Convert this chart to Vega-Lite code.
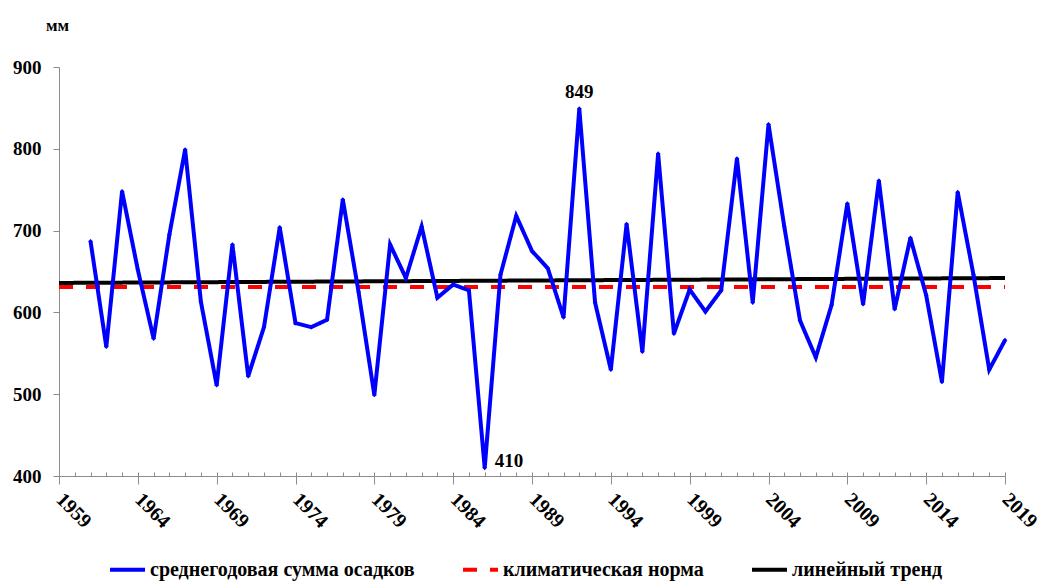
{
  "$schema": "https://vega.github.io/schema/vega-lite/v6.json",
  "width": 946,
  "height": 409,
  "autosize": {"type": "none"},
  "padding": {"left": 59, "top": 67, "right": 32, "bottom": 105},
  "background": "white",
  "config": {
    "view": {"stroke": null},
    "font": "Liberation Serif",
    "legend": {
      "orient": "none",
      "legendX": 49,
      "legendY": 483,
      "direction": "horizontal",
      "title": null,
      "symbolType": "stroke",
      "symbolSize": 1225,
      "symbolStrokeWidth": 4,
      "labelFont": "Liberation Serif",
      "labelFontWeight": "bold",
      "labelFontSize": 20,
      "labelColor": "#000000",
      "labelLimit": 500,
      "labelOffset": 3,
      "columnPadding": 40
    }
  },
  "datasets": {
    "precip": [
      {"year": 1961, "value": 687, "series": "среднегодовая сумма осадков"},
      {"year": 1962, "value": 558, "series": "среднегодовая сумма осадков"},
      {"year": 1963, "value": 748, "series": "среднегодовая сумма осадков"},
      {"year": 1964, "value": 652, "series": "среднегодовая сумма осадков"},
      {"year": 1965, "value": 568, "series": "среднегодовая сумма осадков"},
      {"year": 1966, "value": 695, "series": "среднегодовая сумма осадков"},
      {"year": 1967, "value": 799, "series": "среднегодовая сумма осадков"},
      {"year": 1968, "value": 613, "series": "среднегодовая сумма осадков"},
      {"year": 1969, "value": 511, "series": "среднегодовая сумма осадков"},
      {"year": 1970, "value": 683, "series": "среднегодовая сумма осадков"},
      {"year": 1971, "value": 522, "series": "среднегодовая сумма осадков"},
      {"year": 1972, "value": 582, "series": "среднегодовая сумма осадков"},
      {"year": 1973, "value": 704, "series": "среднегодовая сумма осадков"},
      {"year": 1974, "value": 587, "series": "среднегодовая сумма осадков"},
      {"year": 1975, "value": 582, "series": "среднегодовая сумма осадков"},
      {"year": 1976, "value": 591, "series": "среднегодовая сумма осадков"},
      {"year": 1977, "value": 738, "series": "среднегодовая сумма осадков"},
      {"year": 1978, "value": 625, "series": "среднегодовая сумма осадков"},
      {"year": 1979, "value": 499, "series": "среднегодовая сумма осадков"},
      {"year": 1980, "value": 683, "series": "среднегодовая сумма осадков"},
      {"year": 1981, "value": 642, "series": "среднегодовая сумма осадков"},
      {"year": 1982, "value": 705, "series": "среднегодовая сумма осадков"},
      {"year": 1983, "value": 618, "series": "среднегодовая сумма осадков"},
      {"year": 1984, "value": 634, "series": "среднегодовая сумма осадков"},
      {"year": 1985, "value": 627, "series": "среднегодовая сумма осадков"},
      {"year": 1986, "value": 410, "series": "среднегодовая сумма осадков"},
      {"year": 1987, "value": 646, "series": "среднегодовая сумма осадков"},
      {"year": 1988, "value": 718, "series": "среднегодовая сумма осадков"},
      {"year": 1989, "value": 675, "series": "среднегодовая сумма осадков"},
      {"year": 1990, "value": 654, "series": "среднегодовая сумма осадков"},
      {"year": 1991, "value": 594, "series": "среднегодовая сумма осадков"},
      {"year": 1992, "value": 849, "series": "среднегодовая сумма осадков"},
      {"year": 1993, "value": 612, "series": "среднегодовая сумма осадков"},
      {"year": 1994, "value": 530, "series": "среднегодовая сумма осадков"},
      {"year": 1995, "value": 708, "series": "среднегодовая сумма осадков"},
      {"year": 1996, "value": 552, "series": "среднегодовая сумма осадков"},
      {"year": 1997, "value": 794, "series": "среднегодовая сумма осадков"},
      {"year": 1998, "value": 574, "series": "среднегодовая сумма осадков"},
      {"year": 1999, "value": 628, "series": "среднегодовая сумма осадков"},
      {"year": 2000, "value": 601, "series": "среднегодовая сумма осадков"},
      {"year": 2001, "value": 627, "series": "среднегодовая сумма осадков"},
      {"year": 2002, "value": 788, "series": "среднегодовая сумма осадков"},
      {"year": 2003, "value": 612, "series": "среднегодовая сумма осадков"},
      {"year": 2004, "value": 830, "series": "среднегодовая сумма осадков"},
      {"year": 2005, "value": 705, "series": "среднегодовая сумма осадков"},
      {"year": 2006, "value": 590, "series": "среднегодовая сумма осадков"},
      {"year": 2007, "value": 545, "series": "среднегодовая сумма осадков"},
      {"year": 2008, "value": 609, "series": "среднегодовая сумма осадков"},
      {"year": 2009, "value": 733, "series": "среднегодовая сумма осадков"},
      {"year": 2010, "value": 610, "series": "среднегодовая сумма осадков"},
      {"year": 2011, "value": 761, "series": "среднегодовая сумма осадков"},
      {"year": 2012, "value": 604, "series": "среднегодовая сумма осадков"},
      {"year": 2013, "value": 691, "series": "среднегодовая сумма осадков"},
      {"year": 2014, "value": 621, "series": "среднегодовая сумма осадков"},
      {"year": 2015, "value": 515, "series": "среднегодовая сумма осадков"},
      {"year": 2016, "value": 747, "series": "среднегодовая сумма осадков"},
      {"year": 2017, "value": 646, "series": "среднегодовая сумма осадков"},
      {"year": 2018, "value": 530, "series": "среднегодовая сумма осадков"},
      {"year": 2019, "value": 566, "series": "среднегодовая сумма осадков"}
    ],
    "norm": [
      {"year": 1959, "value": 631, "series": "климатическая норма"},
      {"year": 2019, "value": 631, "series": "климатическая норма"}
    ],
    "trend": [
      {"year": 1959, "value": 636, "series": "линейный тренд"},
      {"year": 2019, "value": 642, "series": "линейный тренд"}
    ]
  },
  "resolve": {"axis": {"x": "independent"}},
  "layer": [
    {
      "data": {"name": "norm"},
      "mark": {"type": "line", "strokeWidth": 4, "clip": false},
      "encoding": {
        "x": {
          "field": "year", "type": "quantitative",
          "scale": {"domain": [1959, 2019], "nice": false, "zero": false},
          "axis": {
            "orient": "top", "offset": -409,
            "values": [1959,1960,1961,1962,1963,1964,1965,1966,1967,1968,1969,1970,1971,1972,1973,1974,1975,1976,1977,1978,1979,1980,1981,1982,1983,1984,1985,1986,1987,1988,1989,1990,1991,1992,1993,1994,1995,1996,1997,1998,1999,2000,2001,2002,2003,2004,2005,2006,2007,2008,2009,2010,2011,2012,2013,2014,2015,2016,2017,2018,2019],
            "labels": false, "domain": false, "grid": false, "title": null,
            "ticks": true, "tickSize": 4, "tickColor": "#8c8c8c", "tickWidth": 1
          }
        },
        "y": {
          "field": "value", "type": "quantitative",
          "scale": {"domain": [400, 900], "nice": false, "zero": false},
          "axis": {
            "values": [400, 500, 600, 700, 800, 900],
            "grid": false,
            "domainColor": "#8c8c8c", "domainWidth": 1,
            "tickColor": "#8c8c8c", "tickSize": 6, "tickWidth": 1,
            "labelFont": "Liberation Serif", "labelFontWeight": "bold",
            "labelFontSize": 19, "labelColor": "#000000", "labelPadding": 12,
            "title": "мм", "titleAngle": 0, "titleX": -2, "titleY": -42,
            "titleAlign": "center", "titleBaseline": "middle",
            "titleFont": "Liberation Serif", "titleFontWeight": "bold",
            "titleFontSize": 17, "titleColor": "#000000"
          }
        },
        "color": {
          "field": "series", "type": "nominal", "title": null,
          "scale": {
            "domain": ["среднегодовая сумма осадков", "климатическая норма", "линейный тренд"],
            "range": ["#0000ff", "#ff0000", "#000000"]
          }
        },
        "strokeDash": {
          "field": "series", "type": "nominal", "title": null,
          "scale": {
            "domain": ["среднегодовая сумма осадков", "климатическая норма", "линейный тренд"],
            "range": [[1, 0], [14, 13], [1, 0]]
          }
        }
      }
    },
    {
      "data": {"name": "trend"},
      "mark": {"type": "line", "strokeWidth": 4, "clip": false},
      "encoding": {
        "x": {"field": "year", "type": "quantitative", "axis": null},
        "y": {"field": "value", "type": "quantitative"},
        "color": {"field": "series", "type": "nominal", "title": null},
        "strokeDash": {"field": "series", "type": "nominal", "title": null}
      }
    },
    {
      "data": {"name": "precip"},
      "mark": {"type": "line", "strokeWidth": 4, "clip": false},
      "encoding": {
        "x": {
          "field": "year", "type": "quantitative",
          "axis": {
            "orient": "bottom",
            "values": [1959, 1964, 1969, 1974, 1979, 1984, 1989, 1994, 1999, 2004, 2009, 2014, 2019],
            "format": "d",
            "grid": false, "title": null,
            "domainColor": "#8c8c8c", "domainWidth": 1,
            "tickColor": "#8c8c8c", "tickSize": 8, "tickWidth": 1,
            "labelAngle": 45, "labelAlign": "left", "labelBaseline": "middle",
            "labelPadding": 12,
            "labelFont": "Liberation Serif", "labelFontWeight": "bold",
            "labelFontSize": 20, "labelColor": "#000000",
            "labelOverlap": false, "labelBound": false, "labelFlush": false
          }
        },
        "y": {"field": "value", "type": "quantitative"},
        "color": {"field": "series", "type": "nominal", "title": null},
        "strokeDash": {"field": "series", "type": "nominal", "title": null}
      }
    },
    {
      "data": {"name": "precip"},
      "mark": {"type": "point", "shape": "diamond", "filled": true, "size": 22, "color": "#0000ff", "opacity": 1},
      "encoding": {
        "x": {"field": "year", "type": "quantitative", "axis": null},
        "y": {"field": "value", "type": "quantitative"}
      }
    },
    {
      "data": {"name": "precip"},
      "transform": [{"filter": "datum.year == 1992"}],
      "mark": {"type": "text", "dy": -17, "align": "center", "baseline": "middle", "font": "Liberation Serif", "fontWeight": "bold", "fontSize": 19, "color": "#000000"},
      "encoding": {
        "x": {"field": "year", "type": "quantitative", "axis": null},
        "y": {"field": "value", "type": "quantitative"},
        "text": {"field": "value", "type": "quantitative"}
      }
    },
    {
      "data": {"name": "precip"},
      "transform": [{"filter": "datum.year == 1986"}],
      "mark": {"type": "text", "dx": 10, "dy": -7, "align": "left", "baseline": "middle", "font": "Liberation Serif", "fontWeight": "bold", "fontSize": 19, "color": "#000000"},
      "encoding": {
        "x": {"field": "year", "type": "quantitative", "axis": null},
        "y": {"field": "value", "type": "quantitative"},
        "text": {"field": "value", "type": "quantitative"}
      }
    }
  ]
}
